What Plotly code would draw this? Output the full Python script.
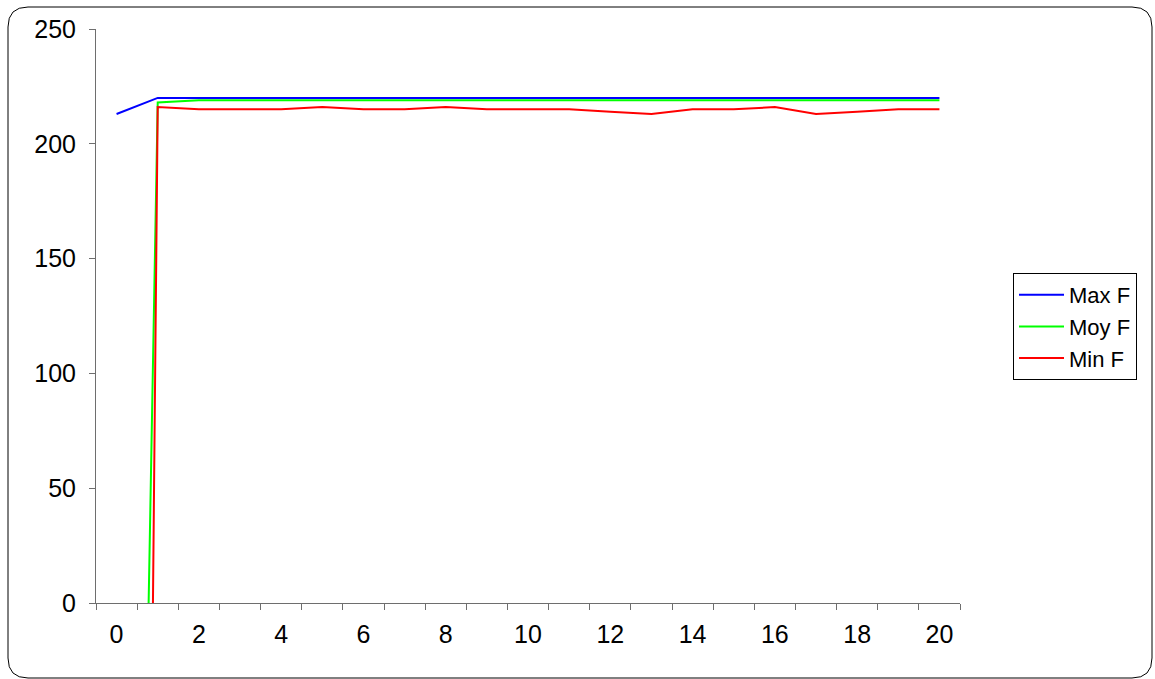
import plotly.graph_objects as go

W, H = 1155, 679
L, R, T, B = 96, 195, 29, 76

generations = [0, 1, 2, 3, 4, 5, 6, 7, 8, 9, 10, 11, 12, 13, 14, 15, 16, 17, 18, 19, 20]
max_f = [213, 220, 220, 220, 220, 220, 220, 220, 220, 220, 220, 220, 220, 220, 220, 220, 220, 220, 220, 220, 220]
moy_f = [-770, 218, 219, 219, 219, 219, 219, 219, 219, 219, 219, 219, 219, 219, 219, 219, 219, 219, 219, 219, 219]
min_f = [-1650, 216, 215, 215, 215, 216, 215, 215, 216, 215, 215, 215, 214, 213, 215, 215, 216, 213, 214, 215, 215]
x_labels = [0, 2, 4, 6, 8, 10, 12, 14, 16, 18, 20]
y_ticks = [0, 50, 100, 150, 200, 250]

FONT = "Liberation Sans, Arial, sans-serif"
AXIS = "#6e6e6e"

fig = go.Figure()
for name, vals, col in [("Max F", max_f, "#0000ff"), ("Moy F", moy_f, "#00ff00"), ("Min F", min_f, "#ff0000")]:
    fig.add_trace(go.Scatter(x=generations, y=vals, mode="lines", name=name,
                             line=dict(color=col, width=2)))

pw = W - L - R
ph = H - T - B

def px(x):
    return (x - L) / pw

def py(y):
    return (H - B - y) / ph

# rounded chart border
x0, y0, x1, y1, r = 8, 7, 1152, 678, 20
path = (f"M {px(x0+r)},{py(y0)} L {px(x1-r)},{py(y0)} Q {px(x1)},{py(y0)} {px(x1)},{py(y0+r)} "
        f"L {px(x1)},{py(y1-r)} Q {px(x1)},{py(y1)} {px(x1-r)},{py(y1)} "
        f"L {px(x0+r)},{py(y1)} Q {px(x0)},{py(y1)} {px(x0)},{py(y1-r)} "
        f"L {px(x0)},{py(y0+r)} Q {px(x0)},{py(y0)} {px(x0+r)},{py(y0)} Z")
fig.add_shape(type="path", path=path, xref="paper", yref="paper",
              line=dict(color="black", width=1), layer="below")

fig.update_layout(
    width=W, height=H,
    margin=dict(l=L, r=R, t=T, b=B, autoexpand=False),
    paper_bgcolor="white", plot_bgcolor="white",
    font=dict(family=FONT, size=25, color="black"),
    showlegend=True,
    legend=dict(x=px(1013), y=py(273), xanchor="left", yanchor="top",
                bordercolor="black", borderwidth=1, bgcolor="white",
                font=dict(size=22), itemwidth=45, tracegroupgap=0),
    xaxis=dict(range=[-0.5, 20.5], tickmode="array", tickvals=x_labels,
               ticktext=[str(v) for v in x_labels], ticks="", showgrid=False,
               zeroline=False, showline=True, linecolor=AXIS, linewidth=1,
               ticklabelstandoff=9,
               minor=dict(ticks="outside", ticklen=6, tickcolor=AXIS, tickwidth=1,
                          tick0=-0.5, dtick=1, showgrid=False)),
    yaxis=dict(range=[0, 250], tickmode="array", tickvals=y_ticks,
               ticks="outside", ticklen=6, tickcolor=AXIS, showgrid=False,
               zeroline=False, showline=True, linecolor=AXIS, linewidth=1,
               ticklabelstandoff=8),
)

fig.write_html("out.html")
